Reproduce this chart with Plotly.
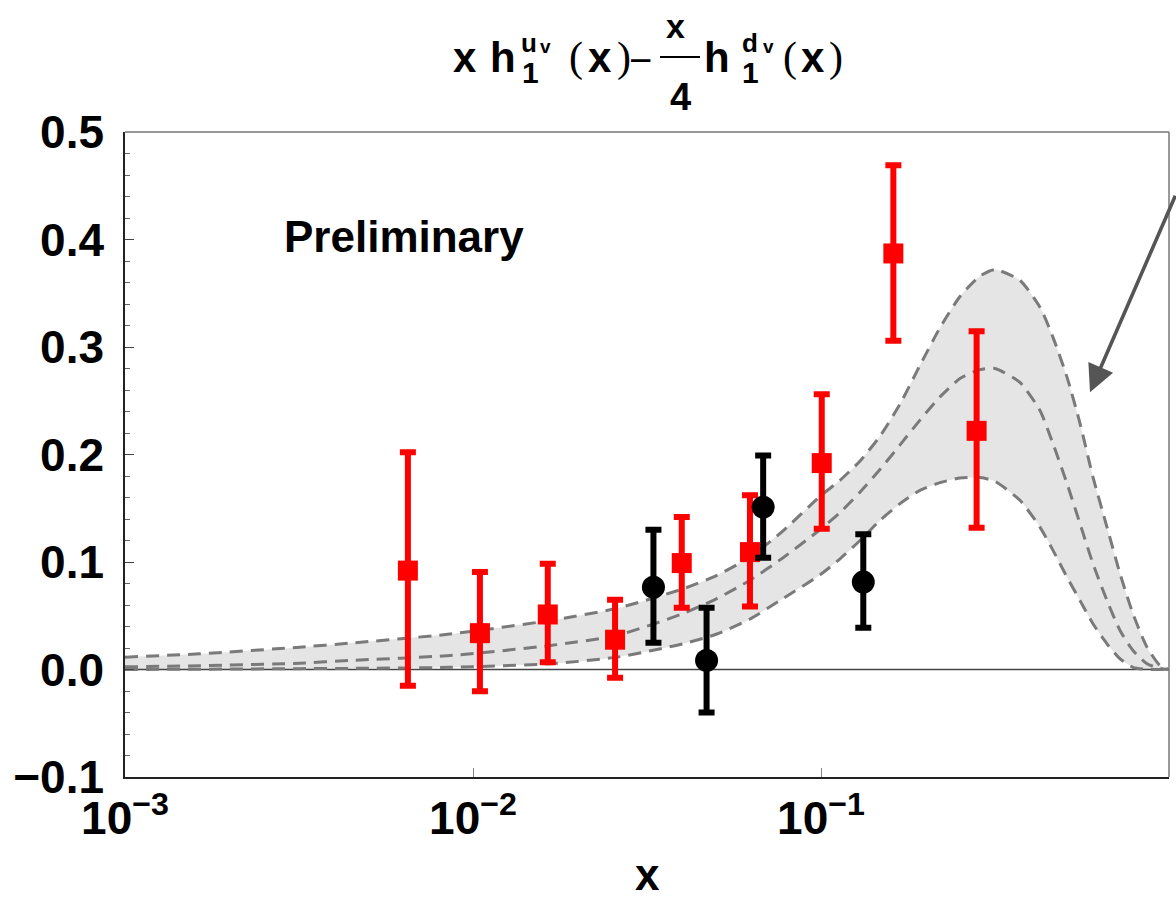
import plotly.graph_objects as go

# ---------------- data ----------------
x_curve = [0.001, 0.00164, 0.00318, 0.00443, 0.00859, 0.01665, 0.02594, 0.0401, 0.0502,
           0.0625, 0.0778, 0.0993, 0.1134, 0.1295, 0.1477, 0.1687, 0.1925, 0.2198, 0.2508,
           0.2863, 0.3162, 0.3730, 0.4258, 0.4642, 0.5092, 0.5549, 0.6047, 0.6634, 0.7232,
           0.7880, 0.8644, 0.9421, 1.0]
upper = [0.0115, 0.0146, 0.0208, 0.0245, 0.033, 0.0456, 0.057, 0.075, 0.0875, 0.1046,
         0.129, 0.161, 0.176, 0.194, 0.217, 0.247, 0.283, 0.318, 0.347, 0.366, 0.372,
         0.362, 0.337, 0.309, 0.272, 0.229, 0.179, 0.1325, 0.0891, 0.0518, 0.0208,
         0.0037, 0.0]
central = [0.0025, 0.0035, 0.0059, 0.0084, 0.013, 0.0223, 0.0317, 0.052, 0.066, 0.083,
           0.104, 0.130, 0.146, 0.165, 0.186, 0.209, 0.232, 0.2536, 0.2707, 0.279, 0.280,
           0.267, 0.241, 0.210, 0.173, 0.1357, 0.0984, 0.0642, 0.0363, 0.0177, 0.0053,
           0.001, 0.0]
lower = [0.0, 0.0003, 0.0008, 0.001, 0.002, 0.0053, 0.0115, 0.0239, 0.033, 0.047, 0.066,
         0.088, 0.103, 0.120, 0.1387, 0.1543, 0.1667, 0.1738, 0.1781, 0.1785, 0.175,
         0.1574, 0.1325, 0.1108, 0.0859, 0.0642, 0.0425, 0.0239, 0.010, 0.002, 0.0, 0.0,
         0.0]

red_x = [0.0065, 0.01047, 0.0164, 0.0256, 0.0398, 0.0625, 0.1005, 0.1614, 0.280]
red_y = [0.092, 0.0338, 0.0512, 0.0277, 0.099, 0.1092, 0.192, 0.387, 0.222]
red_hi = [0.202, 0.0906, 0.0984, 0.0649, 0.1418, 0.162, 0.256, 0.469, 0.3147]
red_lo = [-0.015, -0.0202, 0.0068, -0.0077, 0.0574, 0.0587, 0.131, 0.3057, 0.1319]

blk_x = [0.033, 0.0469, 0.0682, 0.1323]
blk_y = [0.0766, 0.0084, 0.151, 0.0813]
blk_hi = [0.130, 0.0574, 0.199, 0.1257]
blk_lo = [0.0249, -0.040, 0.104, 0.0388]

x_tickvals = [0.001, 0.01, 0.1, 1]
x_ticktext = ["10<sup>\u22123</sup>", "10<sup>\u22122</sup>", "10<sup>\u22121</sup>", "1"]
y_tickvals = [-0.1, 0.0, 0.1, 0.2, 0.3, 0.4, 0.5]
y_ticktext = ["\u22120.1", "0.0", "0.1", "0.2", "0.3", "0.4", "0.5"]

SANS = "Liberation Sans, Arial, Helvetica, sans-serif"
SERIF = "Liberation Serif, Times New Roman, serif"
BAND = "#7a7a7a"

L, R, T, B = 125, 7, 132, 125
W, H = 1176, 902
PW, PH = W - L - R, H - T - B


def px2paper(px, py):
    return (px - L) / PW, (H - B - py) / PH


fig = go.Figure()

SPL = dict(shape="spline", smoothing=0.6)
# band fill
fig.add_trace(go.Scatter(x=x_curve, y=lower, mode="lines", line=dict(width=0, **SPL),
                         hoverinfo="skip", showlegend=False))
fig.add_trace(go.Scatter(x=x_curve, y=upper, mode="lines", fill="tonexty", fillcolor="#e5e5e5",
                         line=dict(width=0, **SPL), hoverinfo="skip", showlegend=False))
# zero line
fig.add_trace(go.Scatter(x=[0.001, 1.0], y=[0, 0], mode="lines", line=dict(color="#444444", width=1.3),
                         hoverinfo="skip", showlegend=False))
# dashed curves
for arr in (upper, central, lower):
    fig.add_trace(go.Scatter(x=x_curve, y=arr, mode="lines",
                             line=dict(color=BAND, width=3, dash="13px,8px", **SPL),
                             hoverinfo="skip", showlegend=False))

# red squares
fig.add_trace(go.Scatter(
    x=red_x, y=red_y, mode="markers",
    marker=dict(symbol="square", size=20, color="#ff0000", line=dict(width=0)),
    error_y=dict(type="data", symmetric=False,
                 array=[h - y for h, y in zip(red_hi, red_y)],
                 arrayminus=[y - l for l, y in zip(red_lo, red_y)],
                 color="#ff0000", thickness=6, width=8),
    showlegend=False))
# black circles
fig.add_trace(go.Scatter(
    x=blk_x, y=blk_y, mode="markers",
    marker=dict(symbol="circle", size=23, color="#000000", line=dict(width=0)),
    error_y=dict(type="data", symmetric=False,
                 array=[h - y for h, y in zip(blk_hi, blk_y)],
                 arrayminus=[y - l for l, y in zip(blk_lo, blk_y)],
                 color="#000000", thickness=6, width=8),
    showlegend=False))

annotations = []


def txt(s, px, py, size, family=SANS, weight="bold", anchor="center"):
    xp, yp = px2paper(px, py)
    annotations.append(dict(text=s, x=xp, y=yp, xref="paper", yref="paper", xanchor=anchor,
                            yanchor="middle", showarrow=False,
                            font=dict(family=family, size=size, color="black", weight=weight)))


# title pieces
txt("x", 465, 57.5, 42)
txt("h", 503, 57.5, 42)
txt("1", 530, 72.6, 30)
txt("u", 529, 43.3, 26)
txt("v", 545, 47, 19)
txt("(", 576, 57.8, 42, family=SERIF, weight="normal")
txt("x", 600, 57.5, 42)
txt(")", 624, 57.8, 42, family=SERIF, weight="normal")
txt("\u2212", 640, 60, 40, weight="normal")
txt("x", 675, 26.2, 34)
txt("4", 680, 96.8, 38)
txt("h", 717, 57.5, 42)
txt("1", 750, 72.6, 30)
txt("d", 750, 43.3, 26)
txt("v", 768, 47, 19)
txt("(", 790, 57.8, 42, family=SERIF, weight="normal")
txt("x", 813, 57.5, 42)
txt(")", 836, 57.8, 42, family=SERIF, weight="normal")

# Preliminary label
txt("Preliminary", 282, 236, 44, anchor="left")
# x-axis title
txt("x", 647, 874, 44)

# arrow
annotations.append(dict(x=-0.227, y=0.258, xref="x", yref="y", axref="pixel", ayref="pixel",
                        ax=96, ay=-198, text="", showarrow=True, arrowhead=2, arrowsize=1.5,
                        arrowwidth=3.6, arrowcolor="#555555", standoff=0))

shapes = []
fx0, fy = px2paper(660, 57)
fx1, _ = px2paper(700, 57)
shapes.append(dict(type="line", xref="paper", yref="paper", x0=fx0, x1=fx1, y0=fy, y1=fy,
                   line=dict(color="black", width=2.2)))
# top and right frame lines (gray)
shapes.append(dict(type="line", xref="paper", yref="paper", x0=0, x1=1, y0=1, y1=1,
                   line=dict(color="#777777", width=1.5)))
shapes.append(dict(type="line", xref="paper", yref="paper", x0=1, x1=1, y0=0, y1=1,
                   line=dict(color="#777777", width=1.5)))

fig.update_layout(
    width=W, height=H,
    margin=dict(l=L, r=R, t=T, b=B, pad=0),
    paper_bgcolor="white", plot_bgcolor="white",
    showlegend=False,
    annotations=annotations,
    shapes=shapes,
    xaxis=dict(type="log", range=[-3, 0], showgrid=False, zeroline=False,
               tickvals=x_tickvals, ticktext=x_ticktext,
               ticks="inside", ticklen=9, tickwidth=1.2, tickcolor="#888888",
               showline=True, linecolor="#222222", linewidth=1.5, mirror=False,
               tickfont=dict(family=SANS, size=46, color="black", weight="bold"),
               ticklabelstandoff=0),
    yaxis=dict(range=[-0.1, 0.5], showgrid=False, zeroline=False,
               tickvals=y_tickvals, ticktext=y_ticktext,
               ticks="inside", ticklen=9, tickwidth=1.2, tickcolor="#444444",
               minor=dict(dtick=0.02, tick0=0, ticks="inside", ticklen=5, tickwidth=1, tickcolor="#666666",
                          showgrid=False),
               showline=True, linecolor="#222222", linewidth=1.5, mirror=False,
               tickfont=dict(family=SANS, size=46, color="black", weight="bold"),
               ticklabelstandoff=10),
)

fig.write_html("out.html")
